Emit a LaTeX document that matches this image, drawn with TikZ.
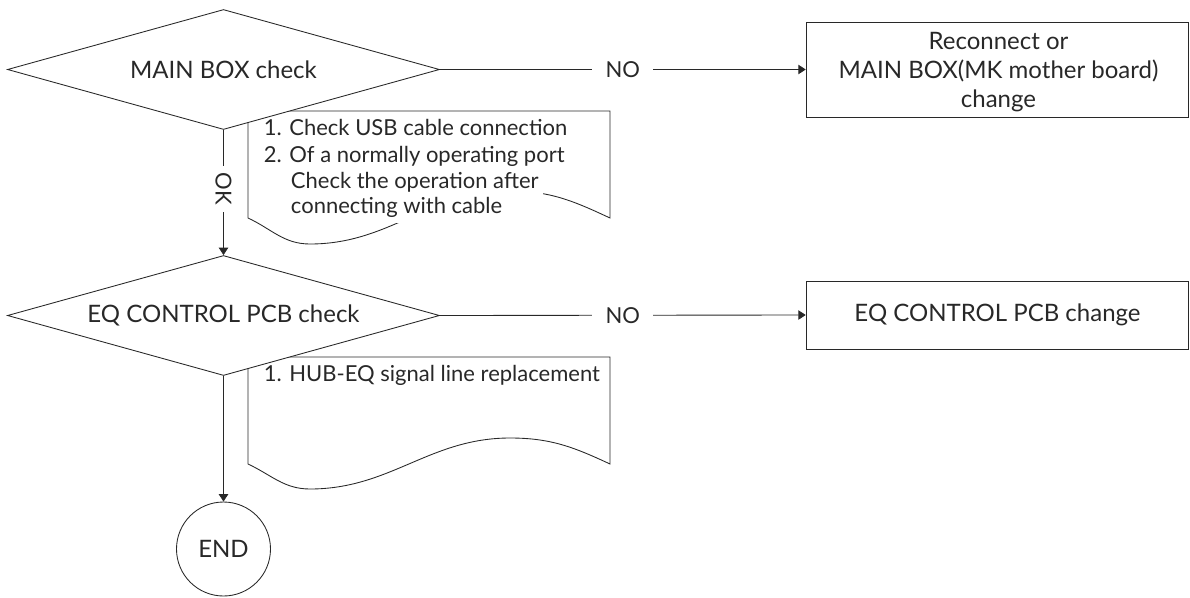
\documentclass[tikz,border=0pt]{standalone}
\usepackage{fontspec}
\setmainfont{Lato}
\usetikzlibrary{shapes.geometric,arrows.meta}
\definecolor{ink}{RGB}{40,40,40}
\newcommand{\fs}{\fontsize{16.5pt}{20pt}\selectfont}
\newcommand{\fsb}{\fontsize{18pt}{22pt}\selectfont}
\begin{document}
\begin{tikzpicture}[x=0.75pt,y=-0.75pt,
  every node/.style={text=ink},
  line/.style={draw=ink,line width=0.65pt},
  arr/.style={line,-{Triangle[length=5.5pt,width=7pt]}},
  decision/.style={diamond,draw=ink,line width=0.65pt,fill=white,aspect=3.6,
    minimum width=324pt,minimum height=90pt,inner sep=0pt,font=\fsb},
  action/.style={rectangle,draw=ink,line width=0.65pt,minimum width=287pt,
    inner sep=0pt,align=center,font=\fsb},
  doctext/.style={anchor=west,fill=white,inner sep=3.5pt,font=\fs,
    text height=12pt,text depth=3.5pt},
  lbl/.style={fill=white,font=\fs,inner ysep=1pt},
  endnode/.style={circle,draw=ink,line width=0.65pt,minimum size=70.5pt,inner sep=0pt,font=\fsb}]
\useasboundingbox (0,0) rectangle (1190,597);

% document shapes (drawn first, diamonds overlap their corners)
\draw[line] (248,111) -- (610,111) -- (610,218)
  to[out=155,in=0] (510,191) to[out=180,in=0] (310,244)
  to[out=180,in=-25] (248,218) -- cycle;
\draw[line] (248,357) -- (610,357) -- (610,464)
  to[out=155,in=0] (510,438) to[out=180,in=0] (310,489)
  to[out=180,in=-25] (248,464) -- cycle;

\node[doctext] (t1) at (259,130) {1. Check USB cable connection};
\node[doctext] (t2) at (259,157) {2. Of a normally operating port};
\node[doctext] (t3) at (286,183) {Check the operation after};
\node[doctext] (t4) at (286,208) {connecting with cable};
\node[doctext] (t5) at (259,376) {1. HUB-EQ signal line replacement};

% decisions
\node[decision] (d1) at (223.5,69.5) {MAIN BOX check};
\node[decision] (d2) at (223.5,315.5) {EQ CONTROL PCB check};

% actions
\node[action,minimum height=71.25pt] (b1) at (997.5,69.5) {};
\node[align=center,font=\fsb,inner sep=0pt] (b1t) at (998.5,72)
  {Reconnect or\\MAIN BOX(MK mother board)\\change};
\node[action,minimum height=51pt] (b2) at (997.5,315) {EQ CONTROL PCB change};

\node[endnode] (e) at (223.5,549) {END};

% connectors
\draw[arr] (d1.east) -- node[lbl,inner xsep=10pt]{NO} (b1.west);
\draw[arr] (d2.east) -- node[lbl,inner xsep=10pt]{NO} (b2.west);
\draw[arr] (d1.south) -- node[lbl,pos=0.47,rotate=-90,inner xsep=5pt]{OK} (d2.north);
\draw[arr] (d2.south) -- (e.north);
\end{tikzpicture}
\end{document}
